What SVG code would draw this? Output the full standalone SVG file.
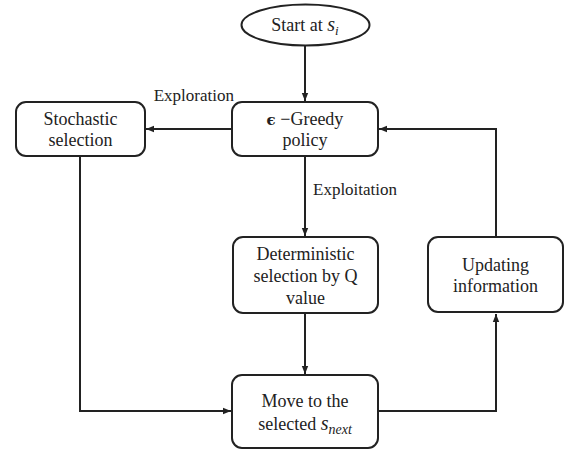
<svg xmlns="http://www.w3.org/2000/svg" width="566" height="452" viewBox="0 0 566 452">
<style>
.box{fill:#fff;stroke:#222;stroke-width:2}
.t{font-family:"Liberation Serif","Times New Roman",serif;font-size:18px;fill:#222;text-anchor:middle}
.l{font-family:"Liberation Serif","Times New Roman",serif;font-size:17px;fill:#222}
.m{font-style:italic}
.c{fill:none;stroke:#222;stroke-width:2}
</style>
<defs>
<marker id="a" viewBox="0 0 10 10" refX="10" refY="5" markerWidth="4" markerHeight="4" orient="auto" markerUnits="strokeWidth">
<path d="M0,1 L10,5 L0,9 z" fill="#222"/>
</marker>
</defs>
<rect width="566" height="452" fill="#fff"/>
<g id="connectors">
<line class="c" x1="305" y1="46" x2="305" y2="101" marker-end="url(#a)"/>
<line class="c" x1="232" y1="129" x2="146" y2="129" marker-end="url(#a)"/>
<line class="c" x1="305" y1="156" x2="305" y2="236" marker-end="url(#a)"/>
<line class="c" x1="305" y1="313" x2="305" y2="374" marker-end="url(#a)"/>
<polyline class="c" points="80,156 80,411 231,411" marker-end="url(#a)"/>
<polyline class="c" points="378,411 496,411 496,314" marker-end="url(#a)"/>
<polyline class="c" points="496,237 496,129 379,129" marker-end="url(#a)"/>
<text class="l" x="234" y="101" text-anchor="end">Exploration</text>
<text class="l" x="313" y="195">Exploitation</text>
</g>
<g id="start">
<ellipse class="box" cx="305.5" cy="25" rx="64" ry="20.5"/>
<text class="t" x="305" y="31">Start at <tspan class="m" font-size="20">s</tspan><tspan class="m" font-size="13" dy="4">i</tspan></text>
</g>
<g id="greedy">
<rect class="box" x="232" y="102" width="146" height="54" rx="10"/>
<text class="t" x="305" y="125"><tspan font-weight="bold" font-family="DejaVu Serif" font-size="15">ϵ</tspan> −Greedy</text>
<text class="t" x="305" y="146">policy</text>
</g>
<g id="stochastic">
<rect class="box" x="16" y="102" width="129" height="54" rx="10"/>
<text class="t" x="80.5" y="125">Stochastic</text>
<text class="t" x="80.5" y="146">selection</text>
</g>
<g id="deterministic">
<rect class="box" x="233" y="237" width="145" height="76" rx="10"/>
<text class="t" x="305.5" y="260">Deterministic</text>
<text class="t" x="305.5" y="282">selection by Q</text>
<text class="t" x="305.5" y="304">value</text>
</g>
<g id="updating">
<rect class="box" x="428" y="237" width="135" height="75" rx="10"/>
<text class="t" x="495.5" y="271">Updating</text>
<text class="t" x="495.5" y="292">information</text>
</g>
<g id="move">
<rect class="box" x="232" y="375" width="146" height="73" rx="10"/>
<text class="t" x="305" y="407">Move to the</text>
<text class="t" x="305" y="430">selected <tspan class="m" font-size="20">s</tspan><tspan class="m" font-size="14" dy="4">next</tspan></text>
</g>
</svg>
